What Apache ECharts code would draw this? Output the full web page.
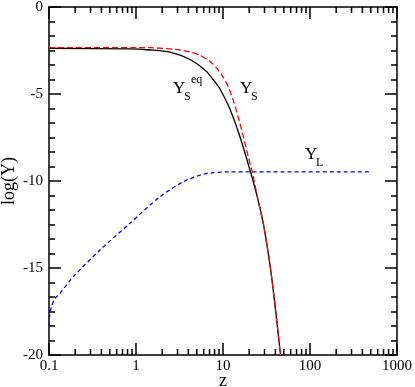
<!DOCTYPE html>
<html>
<head>
<meta charset="utf-8">
<script src="https://cdn.jsdelivr.net/npm/echarts@6/dist/echarts.min.js"></script>
<style>
html,body{margin:0;padding:0;background:#fff;}
#c{width:415px;height:387px;}
</style>
</head>
<body>
<div id="c"></div>
<script>
// ---- data ----
const zEq = [0.1, 0.853, 1.449, 2.46, 4.18, 6.38, 8.09, 9.24, 12.0, 15.7, 20.7, 24.6, 29.1, 34.7, 39.6, 45.8];
const yEq = [-2.37, -2.41, -2.47, -2.59, -3.02, -3.68, -4.31, -4.71, -5.86, -7.47, -9.47, -10.86, -12.47, -14.83, -17.13, -20.0];

const zS = [0.1, 1.449, 3.21, 4.18, 5.45, 7.1, 8.53, 10.0, 11.4, 13.0, 14.9, 17.0, 19.4, 21.5, 24.9, 29.1, 34.7, 39.6, 45.8];
const yS = [-2.33, -2.34, -2.47, -2.59, -2.78, -3.13, -3.53, -4.02, -4.55, -5.31, -6.29, -7.38, -8.56, -9.39, -10.92, -12.47, -14.83, -17.13, -20.0];

const zL = [0.1, 0.102, 0.107, 0.117, 0.134, 0.19, 0.385, 0.853, 1.89, 3.5, 5.45, 7.74, 12, 20, 500];
const yL = [-18.3, -17.7, -17.2, -16.75, -16.45, -15.5, -13.97, -12.43, -10.9, -10.04, -9.66, -9.52, -9.47, -9.47, -9.47];

const xMinorTicks = [0.2,0.3,0.4,0.5,0.6,0.7,0.8,0.9, 2,3,4,5,6,7,8,9, 20,30,40,50,60,70,80,90, 200,300,400,500,600,700,800,900];

const xName = 'z';
const yName = 'log(Y)';

// ---- chart ----
const FONT = '"Liberation Serif", "DejaVu Serif", serif';
const zip = (a, b) => a.map((v, i) => [v, b[i]]);
const fmt = v => String(parseFloat(Number(v).toPrecision(6)));

const chart = echarts.init(document.getElementById('c'), null, {renderer: 'canvas'});

const axisLine = {show: true, onZero: false, lineStyle: {color: '#000', width: 1.5}};
const tick = {show: true, inside: true, length: 12, lineStyle: {color: '#000', width: 1.5}};
const labelStyle = {color: '#000', fontFamily: FONT, fontSize: 15};

chart.setOption({
  animation: false,
  backgroundColor: '#fff',
  grid: {left: 49, top: 7, right: 18, bottom: 32, containLabel: false, outerBoundsMode: 'none'},
  xAxis: [
    {
      type: 'log', logBase: 10, min: 0.1, max: 1000, splitNumber: 4,
      position: 'bottom',
      name: xName, nameLocation: 'middle', nameGap: 17, nameMoveOverlap: false,
      nameTextStyle: {color: '#000', fontFamily: FONT, fontSize: 18},
      axisLine: axisLine, axisTick: tick,
      axisLabel: Object.assign({margin: 4, formatter: fmt}, labelStyle),
      splitLine: {show: false}
    },
    {
      type: 'log', logBase: 10, min: 0.1, max: 1000, splitNumber: 4,
      position: 'top',
      axisLine: axisLine, axisTick: tick,
      axisLabel: {show: false}, splitLine: {show: false}
    }
  ],
  yAxis: [
    {
      type: 'value', min: -20, max: 0, interval: 5,
      position: 'left',
      name: yName, nameLocation: 'middle', nameGap: 31, nameRotate: 90, nameMoveOverlap: false,
      nameTextStyle: {color: '#000', fontFamily: FONT, fontSize: 18},
      axisLine: axisLine, axisTick: tick,
      minorTick: {show: true, splitNumber: 6, length: 6, lineStyle: {color: '#000', width: 1.5}},
      axisLabel: Object.assign({margin: 6}, labelStyle),
      splitLine: {show: false}, minorSplitLine: {show: false}
    },
    {
      type: 'value', min: -20, max: 0, interval: 5,
      position: 'right',
      axisLine: axisLine, axisTick: tick,
      minorTick: {show: true, splitNumber: 6, length: 6, lineStyle: {color: '#000', width: 1.5}},
      axisLabel: {show: false},
      splitLine: {show: false}, minorSplitLine: {show: false}
    }
  ],
  series: [
    {
      type: 'line', name: 'YL', data: zip(zL, yL), showSymbol: false,
      smooth: 0.25,
      lineStyle: {color: '#0000ff', width: 1.3, type: [4, 3]}
    },
    {
      type: 'line', name: 'YSeq', data: zip(zEq, yEq), showSymbol: false,
      smooth: 0.25,
      lineStyle: {color: '#000', width: 1.3}
    },
    {
      type: 'line', name: 'YS', data: zip(zS, yS), showSymbol: false,
      smooth: 0.25,
      lineStyle: {color: '#ff0000', width: 1.3, type: [6, 3]}
    },
    {
      type: 'custom', name: 'xminor', silent: true, clip: false,
      data: xMinorTicks.map(z => [z, -20]),
      renderItem: function (params, api) {
        const x = api.coord([api.value(0), -20])[0];
        const cs = params.coordSys;
        const st = {stroke: '#000', lineWidth: 1.5};
        return {type: 'group', children: [
          {type: 'line', shape: {x1: x, y1: cs.y + cs.height, x2: x, y2: cs.y + cs.height - 6}, style: st},
          {type: 'line', shape: {x1: x, y1: cs.y, x2: x, y2: cs.y + 6}, style: st}
        ]};
      }
    }
  ],
  graphic: [
    {type: 'text', left: 173, top: 80, style: {text: 'Y', font: '17px ' + FONT, fill: '#000'}},
    {type: 'text', left: 184, top: 91, style: {text: 'S', font: '12px ' + FONT, fill: '#000'}},
    {type: 'text', left: 191, top: 74, style: {text: 'eq', font: '12px ' + FONT, fill: '#000'}},
    {type: 'text', left: 240, top: 80, style: {text: 'Y', font: '17px ' + FONT, fill: '#000'}},
    {type: 'text', left: 251, top: 91, style: {text: 'S', font: '12px ' + FONT, fill: '#000'}},
    {type: 'text', left: 305, top: 146, style: {text: 'Y', font: '17px ' + FONT, fill: '#000'}},
    {type: 'text', left: 316, top: 157, style: {text: 'L', font: '12px ' + FONT, fill: '#000'}}
  ]
});
</script>
</body>
</html>
